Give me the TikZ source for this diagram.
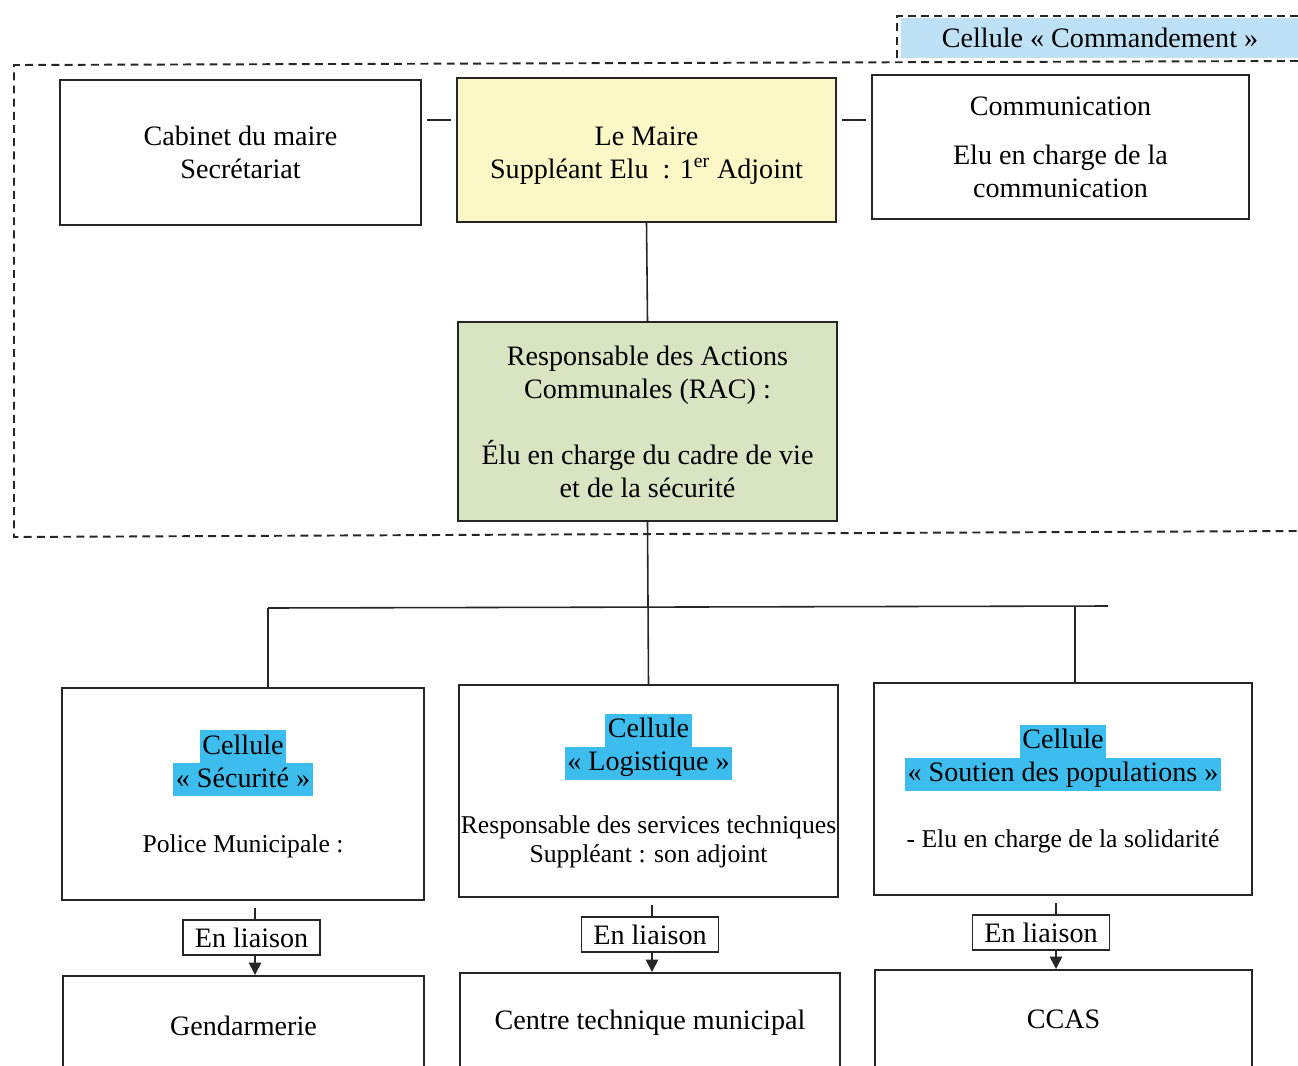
\documentclass[tikz,border=0pt]{standalone}
\usepackage{fontspec}
\setmainfont{Liberation Serif}
\usetikzlibrary{arrows.meta}
\definecolor{mairejaune}{HTML}{FBF7C6}
\definecolor{racvert}{HTML}{D8E4C2}
\definecolor{cmdbleu}{HTML}{BFE1F6}
\definecolor{hlbleu}{HTML}{3DBDEE}
\newcommand{\hlcell}[1]{{\setlength{\fboxsep}{0pt}\colorbox{hlbleu}{\hspace{1.5pt}\rule[-5pt]{0pt}{18.8pt}#1\hspace{1.5pt}}}}
\newcommand{\petit}{\fontsize{14.6}{16.5}\selectfont}
\begin{document}
\begin{tikzpicture}
[
x=0.02cm, y=-0.02cm,
box/.style={draw=black!85, line width=0.9pt, align=center, inner sep=0pt, font=\fontsize{16}{18.8}\selectfont},
cadre/.style={box, minimum width=7.58cm, minimum height=2.88cm},
cellbox/.style={box, minimum width=7.58cm, minimum height=4.24cm},
liaison/.style={box, minimum width=2.74cm, minimum height=0.7cm},
partner/.style={box, anchor=north, minimum width=7.58cm, minimum height=2cm},
link/.style={draw=black!85, line width=0.9pt},
fleche/.style={link, -{Triangle[width=7pt,length=7pt]}},
cmdline/.style={draw=black!85, line width=1.1pt, dash pattern=on 4.5pt off 3pt}
]
\useasboundingbox (0,0) rectangle (1298,1065);
%Cellule commandement
\node[fill=cmdbleu, minimum width=7.98cm, minimum height=0.8cm, font=\fontsize{16}{18.8}\selectfont] at(1100,38)		(cmd) {Cellule « Commandement »};
\draw[cmdline] (1298,16) -| (897,62);
\draw[cmdline] (1298,61) -- (14,65) -- (14,537) -- (1298,531);

%Nodes
\node[cadre, minimum width=7.22cm, minimum height=2.9cm] at(240.5,152.5)		(cab) {Cabinet du maire\\Secrétariat};
\node[cadre, fill=mairejaune] at(646.5,150)		(maire) {\rule{0pt}{16.6pt}Le Maire\\Suppléant Elu~~: 1\textsuperscript{er} Adjoint};
\node[cadre, minimum width=7.54cm] at(1060.5,147)		(comm) {Communication\\[9pt]Elu en charge de la\\communication};
\node[cadre, fill=racvert, minimum height=3.98cm] at(647.5,421.5)		(rac) {Responsable des Actions\\Communales (RAC) :\\[18.8pt]Élu en charge du cadre de vie\\et de la sécurité};

\node[cellbox, minimum width=7.24cm] at(243,794)		(secu) {\hlcell{Cellule}\\\hlcell{« Sécurité »}\\[18.2pt]\petit Police Municipale :};
\node[cellbox] at(648.5,791)		(logi) {\hlcell{Cellule}\\\hlcell{« Logistique »}\\[17pt]\petit Responsable des services techniques\\[-2.3pt]\petit Suppléant : son adjoint};
\node[cellbox, minimum width=7.56cm] at(1063,789)		(sout) {\hlcell{Cellule}\\\hlcell{« Soutien des populations »}\\[18.8pt]\petit - Elu en charge de la solidarité};

\node[liaison] at(251.5,937.5)		(lia1) {En liaison};
\node[liaison] at(650,934.5)		(lia2) {En liaison};
\node[liaison] at(1041,932.5)		(lia3) {En liaison};

\node[partner, minimum width=7.22cm] at(243.5,975)		(gend) {Gendarmerie};
\node[partner, minimum width=7.6cm] at(650,972)		(cent) {Centre technique municipal};
\node[partner, minimum width=7.54cm] at(1063.5,969)		(ccas) {CCAS};

%Connexions
\draw[link, shorten <=3pt, shorten >=3pt] (maire.171) -- (maire.171 -| cab.east);
\draw[link, shorten <=3pt, shorten >=3pt] (maire.9) -- (maire.9 -| comm.west);
\draw[link] (maire.south) -- (rac.north);
\draw[link] (rac.south) -- (logi.north);
\coordinate (busL) at (268,608);
\coordinate (busR) at (1108,606);
\coordinate (busS) at (1075,606);
\draw[link] (busL) -- (busR);
\draw[link] (busL) -- (busL |- secu.north);
\draw[link] (busS) -- (busS |- sout.north);

\draw[link, shorten <=4pt] ([xshift=0.07cm]lia1.north |- secu.south) -- ([xshift=0.07cm]lia1.north);
\draw[fleche] ([xshift=0.07cm]lia1.south) -- ([xshift=0.07cm]lia1.south |- gend.north);
\draw[link, shorten <=4pt] ([xshift=0.04cm]lia2.north |- logi.south) -- ([xshift=0.04cm]lia2.north);
\draw[fleche] ([xshift=0.04cm]lia2.south) -- ([xshift=0.04cm]lia2.south |- cent.north);
\draw[link, shorten <=4pt] ([xshift=0.3cm]lia3.north |- sout.south) -- ([xshift=0.3cm]lia3.north);
\draw[fleche] ([xshift=0.3cm]lia3.south) -- ([xshift=0.3cm]lia3.south |- ccas.north);

\end{tikzpicture}
\end{document}
